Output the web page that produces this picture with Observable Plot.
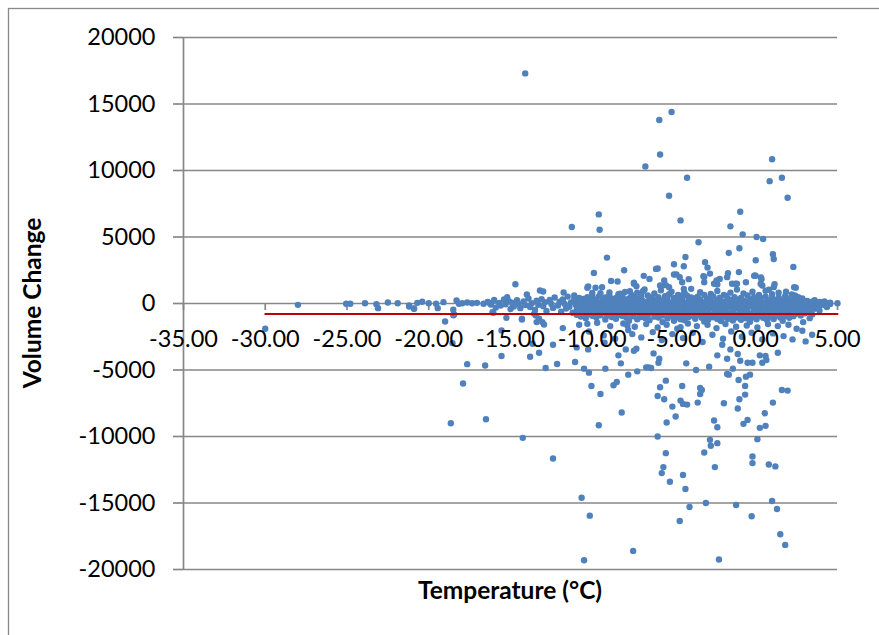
<!DOCTYPE html>
<html><head><meta charset="utf-8">
<script src="https://cdn.jsdelivr.net/npm/d3@7"></script>
<script src="https://cdn.jsdelivr.net/npm/@observablehq/plot@0.6"></script>
<style>
html,body{margin:0;padding:0;background:#fff;}
#chart{position:relative;width:879px;height:635px;overflow:hidden;}
svg{display:block;}
</style></head><body><div id="chart"></div>
<script>
// Tick values
const xTicks = [-35, -30, -25, -20, -15, -10, -5, 0, 5];
const yTicks = [-20000, -15000, -10000, -5000, 0, 5000, 10000, 15000, 20000];
const xTitle = "Temperature (°C)";
const yTitle = "Volume Change";

// Trend line (horizontal, red)
const trendTemp = [-30.0, 5.0];
const trendVolume = [-790, -790];

// Cold tail, sparse points
const coldTail = [[-30.0,-1900],[-28.0,-100],[-25.05,-20],[-24.8,-20],[-23.9,20],[-23.2,-50],[-23.1,-350],[-22.5,80],[-21.9,20],[-21.2,-150],[-21.2,-230],[-20.9,-380],[-20.9,-400],[-20.7,50],[-20.4,130],[-20.0,20],[-19.55,-20],[-19.45,-350],[-19.1,100],[-18.5,-470],[-18.45,-830],[-18.3,230],[-18.15,-20],[-17.95,20],[-17.65,80],[-17.35,20],[-17.05,50],[-16.65,-20],[-16.35,80],[-16.1,-650],[-16.05,-700],[-15.2,470],[-13.55,-770],[-13.4,-1400],[-13.25,-1150],[-13.05,-1400],[-12.95,-1580],[-13.45,-900],[-11.8,-1850],[-11.1,600]];

// Positive outliers
const highOutliers = [[-14.1,17300],[-5.9,13800],[-5.15,14400],[-5.85,11200],[-6.75,10300],[-4.2,9450],[-5.3,8100],[-4.6,6250],[-11.25,5750],[-9.6,6700],[-9.55,5550],[1.0,10850],[0.85,9200],[1.6,9450],[1.95,7950],[-0.95,6900],[-1.55,5800],[-0.8,5200],[0.05,5000],[0.45,4850],[-1.0,4150],[-1.65,3800],[0.0,3250],[1.05,3700],[1.1,3350],[2.3,2750],[-3.5,4600],[-4.3,3500],[-4.4,2800],[-5.0,2950],[-6.1,2600],[-9.1,3450],[-9.9,2300],[-8.05,2500],[-3.1,3100],[-2.95,2700],[-2.8,2250],[-1.03,2360],[0.0,2080],[0.33,1950],[-14.7,1450],[-14.0,680],[-13.2,980],[-13.0,900],[-11.75,830],[-10.25,1280],[-8.85,1700],[-8.45,1650],[-6.85,2080],[-6.5,1850],[-5.6,1730],[-4.85,2180],[-4.1,1830],[-3.2,2050],[-2.2,1850],[-1.7,2280],[-0.6,1600],[-0.1,2080],[0.35,1830],[1.85,880],[2.45,1180]];

// Negative outliers
const lowOutliers = [[-14.25,-10100],[-12.4,-11650],[-10.65,-14600],[-10.15,-15950],[-10.5,-19300],[-7.5,-18600],[-9.6,-9150],[-8.2,-8200],[-9.5,-6800],[-10.05,-6200],[-8.7,-6150],[-8.5,-5900],[-7.8,-5350],[-7.25,-5100],[-6.7,-4800],[-6.4,-4850],[-9.2,-4900],[-10.2,-5200],[-10.5,-4900],[-11.05,-4400],[-12.15,-4550],[-12.85,-4850],[-13.8,-4000],[-13.25,-3700],[-13.65,-3030],[-12.4,-3100],[-10.95,-3300],[-10.25,-3450],[-9.25,-2950],[-8.4,-3900],[-8.25,-4500],[-7.95,-3450],[-7.45,-3550],[-7.3,-3400],[-7.55,-2300],[-6.25,-3750],[-5.9,-4150],[-5.95,-4450],[-6.55,-4800],[-5.5,-5800],[-5.85,-6300],[-6.0,-6950],[-5.6,-7200],[-5.1,-7750],[-4.9,-8500],[-5.45,-8950],[-4.5,-6200],[-4.6,-7300],[-4.45,-7550],[-4.2,-7600],[-4.25,-4500],[-3.65,-5000],[-2.85,-4750],[-3.4,-6350],[-3.3,-6500],[-3.4,-6800],[-3.55,-7450],[-6.0,-10000],[-5.5,-11250],[-5.65,-12300],[-5.75,-12750],[-5.25,-13400],[-4.45,-12900],[-4.3,-13950],[-4.05,-15300],[-4.65,-16350],[-3.05,-15000],[-2.25,-19250],[-2.5,-12300],[-3.15,-11200],[-2.75,-10700],[-2.8,-10250],[-2.35,-10500],[-2.55,-8800],[-2.35,-9300],[-1.95,-7500],[-1.2,-15150],[-0.25,-16000],[-0.2,-11500],[-0.2,-12000],[0.1,-10200],[0.25,-9350],[0.6,-9200],[0.55,-8250],[0.8,-12100],[1.2,-12250],[1.0,-14850],[1.3,-15450],[1.5,-17350],[1.8,-18150],[1.6,-6500],[1.95,-6550],[1.05,-7450],[-0.75,-9050],[-0.5,-8750],[-1.1,-7900],[-1.0,-7200],[-0.65,-6850],[-0.65,-6200],[-0.6,-5500],[-0.35,-5350],[-1.05,-5750],[-1.65,-5350],[-1.4,-4900],[-1.75,-5300],[-0.5,-4450],[-0.2,-4450],[0.4,-4450],[0.65,-4250],[0.25,-3900],[0.6,-3950],[1.35,-3700],[-0.95,-4300],[-1.75,-4150],[-2.35,-3900],[-2.05,-3100],[-1.55,-3450],[-1.1,-3800],[2.85,-2050],[3.05,-2850],[2.25,-2700],[3.45,-2350],[-15.55,-3950],[-14.3,-1150],[-14.3,-1200],[-19.0,-1350],[-18.5,-880],[-18.55,-2980],[-17.65,-4560],[-17.9,-6020],[-18.65,-9000],[-16.55,-4660],[-16.5,-8700],[-15.55,-2030],[-15.25,-1080]];

// Scatter just outside the dense band
const nearBand = [[-10.3,1180],[-9.8,1180],[-7.45,1480],[-5.85,1350],[-5.3,1230],[-2.35,1430],[-1.25,1480],[0.4,1350],[1.1,1230],[2.35,1230],[-8.3,730],[-4.4,730],[-9.4,1230],[-10.0,800],[-8.95,830],[-7.7,920],[-7.45,1560],[-7.3,1300],[-6.8,1050],[-6.0,2630],[-5.8,1280],[-5.5,1380],[-5.0,2180],[-4.65,1980],[-4.5,1600],[-4.4,1100],[-3.15,1600],[-3.15,2000],[-2.55,1480],[-2.4,1730],[-1.75,1980],[-1.45,1480],[-1.15,1480],[-0.05,2100],[0.3,1480],[0.8,1030],[1.15,1450],[2.4,600],[2.85,380],
[-10.8,-1600],[-10.2,-2100],[-9.7,-1450],[-9.3,-2400],[-8.9,-1700],[-8.6,-2650],[-8.1,-1500],[-7.8,-2000],[-7.4,-1750],[-7.0,-2550],[-6.7,-1550],[-6.3,-2150],[-6.0,-1800],[-5.75,-2750],[-5.45,-1600],[-5.1,-2300],[-4.8,-1900],[-4.45,-2600],[-4.15,-1500],[-3.85,-2200],[-3.6,-1700],[-3.25,-2900],[-2.95,-1600],[-2.65,-2350],[-2.4,-1850],[-2.0,-2650],[-1.85,-1550],[-1.5,-2100],[-1.2,-1750],[-0.85,-2500],[-0.55,-1650],[-0.25,-2200],[0.1,-1800],[0.4,-2700],[0.75,-1550],[1.05,-2250],[1.35,-1700],[1.7,-2450],[2.0,-1600],[2.5,-1900],[2.9,-1400],[3.3,-1100],[-10.3,-1530],[-7.85,-1650],[-4.6,-1780],[-2.15,-1280]];

// Dense band: temperature with the volume changes read at it
const bandRows = [
[-16.4,[120]],[-16.2,[-80]],[-16.0,[260]],[-15.9,[-310]],[-15.7,[40]],[-15.6,[-150]],[-15.4,[310]],[-15.3,[-60]],[-15.1,[180]],[-15.0,[-420]],[-14.9,[60]],[-14.8,[-220]],[-14.6,[240]],[-14.5,[-30]],[-14.4,[-350]],[-14.2,[150]],[-14.1,[-120]],[-13.9,[380]],[-13.8,[-260]],[-13.7,[20]],[-13.5,[-480]],[-13.4,[210]],[-13.3,[-90]],[-13.1,[330]],[-13.0,[-200]],[-12.9,[90]],[-12.8,[-560]],[-12.6,[260]],[-12.5,[-40]],[-12.4,[-330]],[-12.3,[450]],[-12.1,[-150]],[-12.0,[130]],[-11.9,[-620]],[-11.8,[300]],[-11.7,[-20]],[-11.6,[-380]],[-11.5,[520]],[-11.4,[-240]],[-11.3,[80]],[-11.2,[-700]],[-11.1,[350]],[-11.0,[-110]],
[-10.95,[210,-480,-850]],[-10.8,[-120,420,-650]],[-10.7,[60,-330,-980]],[-10.55,[340,-210,-720]],[-10.4,[-60,150,-560,-1100]],[-10.3,[480,-380,-820]],[-10.15,[-170,260,-640]],[-10.0,[90,-450,-930,610]],[-9.9,[-280,330,-700]],[-9.75,[170,-120,-1050]],[-9.6,[-390,520,-760]],[-9.5,[40,-250,-880,780]],[-9.35,[310,-520,-130]],[-9.2,[-40,-690,450,-1200]],[-9.1,[220,-360,-900]],[-8.95,[-150,590,-620]],[-8.8,[80,-440,-1010,350]],[-8.7,[-260,240,-780]],[-8.55,[410,-100,-580,-1150]],[-8.4,[-330,130,-860,700]],[-8.3,[20,-510,370]],[-8.15,[-210,520,-940,-660]],
[-8.0,[150,-380,-730,860]],[-7.9,[-60,290,-1080,-450]],[-7.75,[380,-250,-600,-1300]],[-7.6,[-140,60,-820,640]],[-7.5,[250,-420,-960,-180]],[-7.4,[-310,470,-700,110]],[-7.25,[30,-560,-1180,820]],[-7.1,[-200,340,-880,-470]],[-7.0,[540,-90,-650,-1020]],[-6.9,[-360,200,-780,930]],[-6.75,[100,-240,-1100,-520]],[-6.6,[-30,600,-860,-380]],[-6.5,[320,-150,-720,-1250]],[-6.35,[-270,430,-600,60]],[-6.2,[180,-470,-990,760]],[-6.1,[-90,280,-820,-330]],[-5.95,[470,-190,-1060,-640]],[-5.8,[-380,90,-740,1000]],[-5.7,[220,-290,-900,-1400]],[-5.55,[-50,550,-580,-230]],[-5.4,[380,-420,-1120,150]],[-5.3,[-160,700,-800,-550]],[-5.15,[60,-330,-960,880]],[-5.0,[-250,420,-690,-1300]],[-4.9,[290,-80,-860,-480]],[-4.75,[-410,160,-1040,640]],[-4.6,[510,-220,-760,-1180]],[-4.5,[-120,330,-600,-920]],[-4.35,[40,-470,-1260,790]],[-4.2,[-300,590,-830,-150]],[-4.1,[260,-380,-1010,-660]],[-3.95,[-30,450,-720,1100]],[-3.8,[380,-250,-940,-540]],[-3.7,[-190,120,-1150,-820]],[-3.55,[520,-420,-680,-60]],[-3.4,[-340,270,-880,850]],[-3.3,[90,-170,-1080,-560]],[-3.15,[-260,640,-760,-1350]],[-3.0,[310,-480,-960,120]],[-2.9,[-90,380,-640,-1200]],[-2.75,[200,-320,-870,720]],[-2.6,[-400,530,-1040,-200]],[-2.5,[60,-560,-760,-980]],[-2.35,[-220,290,-1160,940]],[-2.2,[430,-110,-690,-450]],[-2.1,[-310,180,-920,-1320]],[-1.95,[110,-400,-820,650]],[-1.8,[-150,560,-1020,-600]],[-1.7,[360,-260,-730,-1150]],[-1.55,[-40,140,-950,820]],[-1.4,[270,-470,-640,-1280]],[-1.3,[-280,480,-860,-120]],[-1.15,[50,-350,-1060,1050]],[-1.0,[-190,330,-770,-540]],[-0.9,[420,-90,-980,-1220]],[-0.75,[-360,210,-700,760]],[-0.6,[140,-430,-1110,-280]],[-0.5,[-70,600,-850,-620]],[-0.35,[310,-200,-960,-1370]],[-0.2,[-240,90,-720,880]],[-0.1,[480,-390,-1040,-560]],[0.05,[-130,260,-800,-1180]],[0.2,[200,-470,-660,640]],[0.3,[-300,410,-930,-140]],[0.45,[60,-230,-1080,-720]],[0.6,[-420,520,-760,960]],[0.7,[250,-80,-880,-1260]],[0.85,[-180,170,-640,-520]],[1.0,[390,-340,-1000,700]],[1.1,[-60,280,-780,-1160]],[1.25,[150,-450,-900,-250]],[1.4,[-250,460,-680,820]],[1.5,[300,-120,-1050,-580]],[1.65,[-340,90,-760,-1300]],[1.8,[120,-280,-920,560]],[1.9,[-80,380,-640,-430]],
[2.05,[220,-360,-860,-1080]],[2.2,[-200,140,-700,680]],[2.3,[330,-60,-520,-950]],[2.45,[-280,240,-780]],[2.6,[80,-400,-620,480]],[2.75,[-140,180,-900]],[2.85,[260,-300,-560]],[3.0,[-60,120,-740]],[3.15,[190,-350,-480]],[3.3,[-220,60,-620]],[3.45,[130,-150,-820]],[3.6,[-90,240,-400]],[3.75,[50,-280]],[3.9,[-160,110,-520]],[4.05,[80,-60]],[4.2,[-120,150]],[4.35,[20,-260]],[4.55,[60,-40]],[5.0,[20]]
];

const points = [
  ...coldTail, ...highOutliers, ...lowOutliers, ...nearBand,
  ...bandRows.flatMap(([t, vs]) => vs.map(v => [t, v]))
].map(([temp, vol]) => ({temp, vol}));

const GRID = "#878787";
const plot = Plot.plot({
  width: 879, height: 635,
  marginLeft: 183, marginRight: 42, marginTop: 37, marginBottom: 66,
  style: {fontFamily: "Lato, 'Open Sans', sans-serif", background: "#fff", overflow: "visible", color: "#000"},
  x: {domain: [-35, 5], axis: null},
  y: {domain: [-20000, 20000]},
  marks: [
    Plot.gridY(yTicks, {stroke: GRID, strokeOpacity: 1, strokeWidth: 1.7}),
    Plot.ruleX([xTicks[0]], {stroke: GRID, strokeWidth: 1.7}),
    Plot.axisY(yTicks, {tickSize: 10, tickPadding: 18, fontSize: 23.5, stroke: GRID, strokeWidth: 1.7, fill: "#000", tickFormat: d => String(d), label: null}),
    Plot.ruleX(xTicks, {x: d => d, y1: 0, y2: 0, insetBottom: -7, stroke: GRID, strokeWidth: 1.7}),
    Plot.dot(points, {x: "temp", y: "vol", r: 3.2, fill: "#4F81BD", stroke: null}),
    Plot.line({length: trendTemp.length}, {x: trendTemp, y: trendVolume, stroke: "#C00000", strokeWidth: 2}),
    Plot.text(xTicks, {x: d => d, y: 0, dy: 36, text: d => d.toFixed(2), fontSize: 23.5, fill: "#000"})
  ]
});

const svg = d3.select(plot);
svg.insert("rect", ":first-child")
  .attr("x", 8.5).attr("y", 8.5).attr("width", 900).attr("height", 700)
  .attr("fill", "none").attr("stroke", "#8a8a8a").attr("stroke-width", 1.3);
svg.append("text")
  .attr("transform", "translate(32,303) rotate(-90)")
  .attr("text-anchor", "middle").attr("dy", "0.35em")
  .attr("font-size", 24.5).attr("font-weight", "bold").attr("fill", "#000")
  .text(yTitle);
svg.append("text")
  .attr("x", 510).attr("y", 590)
  .attr("text-anchor", "middle").attr("dy", "0.35em")
  .attr("font-size", 24.5).attr("font-weight", "bold").attr("fill", "#000")
  .text(xTitle);

document.getElementById("chart").appendChild(plot);
</script>
</body></html>
